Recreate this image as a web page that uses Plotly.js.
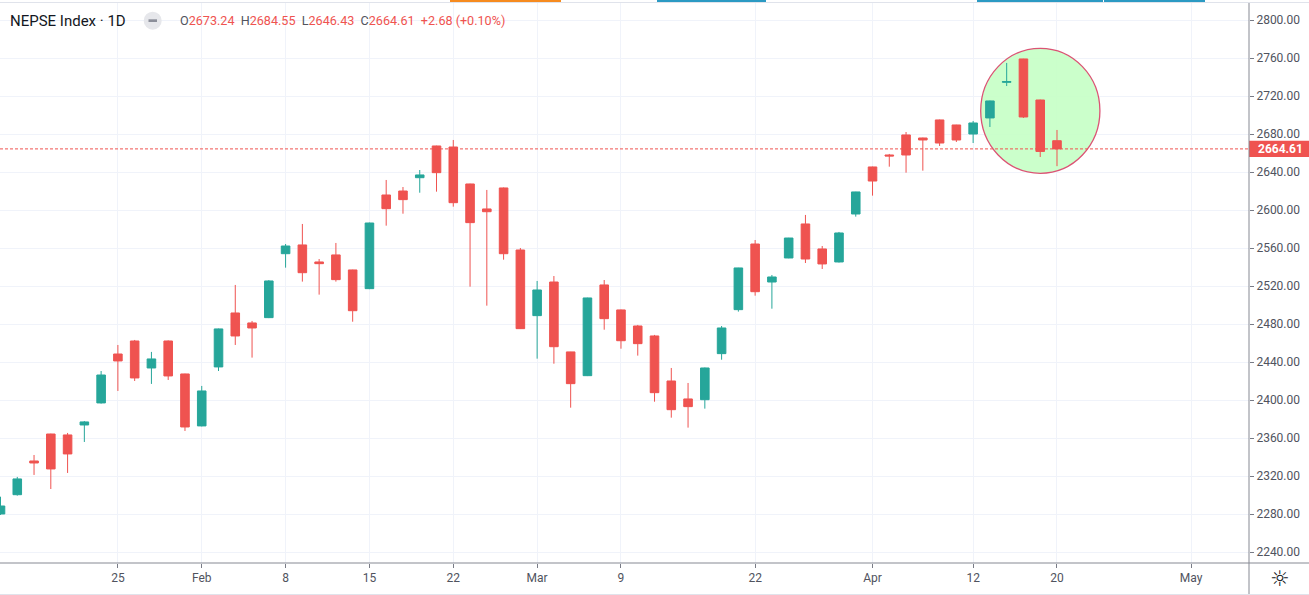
<!DOCTYPE html>
<html>
<head>
<meta charset="utf-8">
<script src="https://cdn.plot.ly/plotly-3.0.1.min.js"></script>
<style>html,body{margin:0;padding:0;background:#fff;overflow:hidden}</style>
</head>
<body>
<div id="chart" style="width:1309px;height:595px"></div>
<script>
const symbolName = 'NEPSE Index · 1D';
const dates = [
 '2021-01-13','2021-01-17','2021-01-18','2021-01-19','2021-01-20','2021-01-21','2021-01-24','2021-01-25','2021-01-26','2021-01-27',
 '2021-01-28','2021-01-31','2021-02-01','2021-02-02','2021-02-03','2021-02-04','2021-02-07','2021-02-08','2021-02-09','2021-02-10',
 '2021-02-11','2021-02-14','2021-02-15','2021-02-16','2021-02-17','2021-02-18','2021-02-21','2021-02-22','2021-02-23','2021-02-24',
 '2021-02-25','2021-02-28','2021-03-01','2021-03-02','2021-03-03','2021-03-04','2021-03-07','2021-03-09','2021-03-10','2021-03-14',
 '2021-03-15','2021-03-16','2021-03-17','2021-03-18','2021-03-21','2021-03-22','2021-03-23','2021-03-24','2021-03-25','2021-03-29',
 '2021-03-30','2021-03-31','2021-04-01','2021-04-04','2021-04-05','2021-04-06','2021-04-07','2021-04-08','2021-04-12','2021-04-13',
 '2021-04-15','2021-04-18','2021-04-19','2021-04-20'
];
const futureDates = ['2021-04-21','2021-04-22','2021-04-25','2021-04-26','2021-04-27','2021-04-28','2021-04-29','2021-05-02','2021-05-03','2021-05-04'];
const openP = [
 2280.3,2300.6,2336.1,2364.5,2363.5,2374.0,2397.2,2448.7,2462.4,2434.0,
 2462.4,2427.7,2373.0,2435.1,2491.9,2481.4,2487.0,2554.3,2563.5,2545.6,
 2553.0,2537.2,2517.5,2616.1,2620.3,2634.3,2667.7,2666.6,2627.7,2601.4,
 2623.5,2558.2,2489.1,2524.5,2450.9,2425.9,2521.4,2495.1,2478.2,2467.7,
 2420.3,2401.4,2400.6,2449.1,2495.4,2564.5,2524.5,2549.8,2585.6,2559.3,
 2545.6,2596.1,2645.6,2658.2,2679.3,2676.1,2695.1,2689.8,2680.3,2697.2,
 2734.7,2759.3,2716.1,2673.24
];
const highP = [
 2298.5,2319.3,2342.4,2364.8,2365.6,2378.2,2430.8,2458.2,2463.5,2450.9,
 2463.0,2428.0,2415.1,2475.5,2521.4,2483.5,2526.5,2564.5,2585.6,2548.7,
 2565.6,2537.5,2587.0,2631.9,2624.5,2642.4,2668.0,2674.0,2628.0,2621.4,
 2624.0,2560.3,2525.6,2530.8,2451.0,2508.0,2526.6,2495.5,2479.3,2468.8,
 2434.0,2418.2,2434.5,2478.2,2539.5,2568.7,2531.9,2571.0,2595.1,2562.4,
 2577.2,2619.5,2646.0,2659.3,2682.4,2676.5,2695.5,2690.0,2694.0,2715.5,
 2755.1,2759.5,2716.5,2684.55
];
const lowP = [
 2279.3,2299.6,2321.4,2306.6,2323.5,2356.1,2396.5,2409.8,2420.3,2417.2,
 2421.4,2367.7,2372.5,2430.8,2458.2,2444.9,2486.5,2539.6,2524.9,2511.2,
 2524.9,2482.7,2517.0,2583.8,2596.4,2618.5,2619.6,2603.8,2519.6,2499.6,
 2548.0,2475.0,2443.8,2438.5,2392.2,2425.5,2474.3,2454.3,2447.0,2398.5,
 2381.7,2371.2,2391.2,2442.7,2493.3,2510.1,2496.4,2549.5,2544.5,2538.2,
 2545.0,2593.3,2615.4,2645.9,2639.6,2641.7,2667.7,2671.9,2670.8,2687.7,
 2730.8,2697.2,2656.1,2646.43
];
const closeP = [
 2288.7,2317.2,2334.0,2327.7,2343.5,2377.2,2426.6,2441.4,2423.5,2443.5,
 2425.6,2371.9,2409.8,2475.1,2467.7,2476.1,2525.6,2562.4,2534.3,2543.8,
 2527.0,2494.3,2586.6,2601.7,2611.2,2637.2,2639.6,2608.0,2587.0,2598.5,
 2554.3,2475.4,2516.1,2456.4,2417.5,2507.7,2485.9,2462.7,2459.6,2408.0,
 2390.1,2393.3,2434.0,2476.1,2539.3,2514.3,2529.8,2570.8,2548.7,2543.5,
 2576.1,2619.3,2630.8,2657.2,2658.2,2674.0,2670.8,2674.0,2691.9,2715.1,
 2735.5,2698.2,2661.93,2664.61
];
const tickDates = ['2021-01-25','2021-02-01','2021-02-08','2021-02-15','2021-02-22','2021-03-01','2021-03-09','2021-03-22','2021-04-01','2021-04-12','2021-04-20','2021-05-02'];
const tickLabels = ['25','Feb','8','15','22','Mar','9','22','Apr','12','20','May'];
const priceTicks = [2240,2280,2320,2360,2400,2440,2480,2520,2560,2600,2640,2680,2720,2760,2800];
// highlighted region (circle) in data units: [first index, last index, low price, high price]
const circleBox = [58.45, 65.56, 2638.95, 2770.5];

const UP = '#26a69a', DOWN = '#ef5350';
const n = closeP.length;
const lastO = openP[n-1], lastH = highP[n-1], lastL = lowP[n-1], lastC = closeP[n-1];
const chg = lastC - closeP[n-2];
const chgPct = chg / closeP[n-2] * 100;

const W = 1309, H = 595, ML = 0, MR = 60, MT = 3, MB = 32;
const PW = W - ML - MR, PH = H - MT - MB;
const px = v => v / PW;               // pixel x -> paper
const py = v => (H - MB - v) / PH;     // pixel y -> paper

const trace = {
  type: 'candlestick',
  x: dates, open: openP, high: highP, low: lowP, close: closeP,
  increasing: {line: {color: UP, width: 1}, fillcolor: UP},
  decreasing: {line: {color: DOWN, width: 1}, fillcolor: DOWN},
  whiskerwidth: 0,
  hoverinfo: 'skip',
  showlegend: false
};

const g = '#50535e';
const sp = '\u00a0\u00a0';
const ohlcText =
  '<span style="color:' + g + '">O</span>' + lastO.toFixed(2) + sp +
  '<span style="color:' + g + '">H</span>' + lastH.toFixed(2) + sp +
  '<span style="color:' + g + '">L</span>' + lastL.toFixed(2) + sp +
  '<span style="color:' + g + '">C</span>' + lastC.toFixed(2) + sp +
  (chg >= 0 ? '+' : '') + chg.toFixed(2) + ' (' + (chgPct >= 0 ? '+' : '') + chgPct.toFixed(2) + '%)';

const layout = {
  width: W, height: H,
  margin: {l: ML, r: MR, t: MT, b: MB},
  paper_bgcolor: '#ffffff', plot_bgcolor: '#ffffff',
  showlegend: false,
  boxgap: 0.27,
  font: {family: 'Roboto, "Liberation Sans", sans-serif', color: '#131722'},
  xaxis: {
    type: 'category', categoryorder: 'array', categoryarray: dates.concat(futureDates),
    range: [-0.03, 74.45],
    tickmode: 'array', tickvals: tickDates, ticktext: tickLabels,
    showgrid: true, gridcolor: '#f0f3fa', gridwidth: 1,
    ticks: 'outside', ticklen: 4, tickcolor: '#787b86',
    tickfont: {size: 12, color: g},
    showline: false, zeroline: false,
    rangeslider: {visible: false}, fixedrange: true
  },
  yaxis: {
    side: 'right', range: [2228.7, 2818.2],
    tickmode: 'array', tickvals: priceTicks, ticktext: priceTicks.map(v => v.toFixed(2)),
    showgrid: true, gridcolor: '#f0f3fa', gridwidth: 1,
    ticks: 'outside', ticklen: 4, tickcolor: '#787b86',
    tickfont: {size: 12, color: g},
    zeroline: false, showline: false, fixedrange: true
  },
  shapes: [
    // highlight circle
    {type: 'circle', xref: 'x', yref: 'y', x0: circleBox[0], x1: circleBox[1], y0: circleBox[2], y1: circleBox[3],
     fillcolor: '#c8ffc8', opacity: 0.93, line: {color: '#d9476a', width: 1.3}, layer: 'between'},
    // last price dotted line
    {type: 'line', xref: 'paper', yref: 'y', x0: 0, x1: 1, y0: lastC, y1: lastC,
     line: {color: DOWN, width: 1, dash: '3px,2px'}, layer: 'above'},
    // price label box
    {type: 'rect', xref: 'paper', yref: 'y', ysizemode: 'pixel', yanchor: lastC, x0: 1, x1: W / PW, y0: -8.2, y1: 8.2,
     fillcolor: DOWN, line: {width: 0}},
    // price scale border
    {type: 'line', xref: 'paper', yref: 'paper', x0: 1, x1: 1, y0: py(H), y1: py(2.3),
     line: {color: '#868993', width: 1}},
    // time scale border
    {type: 'line', xref: 'paper', yref: 'paper', x0: 0, x1: W / PW, y0: 0, y1: 0,
     line: {color: '#868993', width: 1}},
    // outer borders
    {type: 'line', xref: 'paper', yref: 'paper', x0: 0, x1: W / PW, y0: py(594.5), y1: py(594.5),
     line: {color: '#e0e3eb', width: 1}},
    {type: 'line', xref: 'paper', yref: 'paper', x0: 0, x1: W / PW, y0: py(2.5), y1: py(2.5),
     line: {color: '#e0e3eb', width: 1}},
    // toolbar strips at top
    {type: 'rect', xref: 'paper', yref: 'paper', x0: px(450), x1: px(561), y0: py(2), y1: py(0), fillcolor: '#f68b1f', line: {width: 0}},
    {type: 'rect', xref: 'paper', yref: 'paper', x0: px(657), x1: px(766), y0: py(2), y1: py(0), fillcolor: '#2b9ac3', line: {width: 0}},
    {type: 'rect', xref: 'paper', yref: 'paper', x0: px(977), x1: px(1103), y0: py(2), y1: py(0), fillcolor: '#2b9ac3', line: {width: 0}},
    {type: 'rect', xref: 'paper', yref: 'paper', x0: px(1104), x1: px(1205), y0: py(2), y1: py(0), fillcolor: '#2b9ac3', line: {width: 0}},
    // legend hide icon
    {type: 'circle', xref: 'paper', yref: 'paper', x0: px(143.7), x1: px(161.7), y0: py(29.7), y1: py(11.7),
     fillcolor: '#e6e7eb', line: {width: 0}},
    {type: 'rect', xref: 'paper', yref: 'paper', x0: px(148.5), x1: px(157), y0: py(22), y1: py(19.3),
     fillcolor: '#8c8f9a', line: {width: 0}}
  ],
  annotations: [
    {xref: 'paper', yref: 'paper', x: px(7.5), y: py(20.7), xanchor: 'left', yanchor: 'middle', showarrow: false,
     text: symbolName, font: {size: 15, color: '#131722'}},
    {xref: 'paper', yref: 'paper', x: px(178), y: py(20.7), xanchor: 'left', yanchor: 'middle', showarrow: false,
     text: ohlcText, font: {size: 12.6, color: DOWN}},
    {xref: 'paper', yref: 'y', x: 1, y: lastC, xanchor: 'left', yanchor: 'middle', xshift: 7, showarrow: false,
     text: '<b>' + lastC.toFixed(2) + '</b>', font: {size: 12, color: '#ffffff'}},
    {xref: 'paper', yref: 'paper', x: px(1279.5), y: py(578), xanchor: 'center', yanchor: 'middle', showarrow: false,
     text: '\u263C', font: {size: 22, color: '#131722', family: 'DejaVu Sans'}}
  ]
};

Plotly.newPlot('chart', [trace], layout, {staticPlot: true, displayModeBar: false});
</script>
</body>
</html>
